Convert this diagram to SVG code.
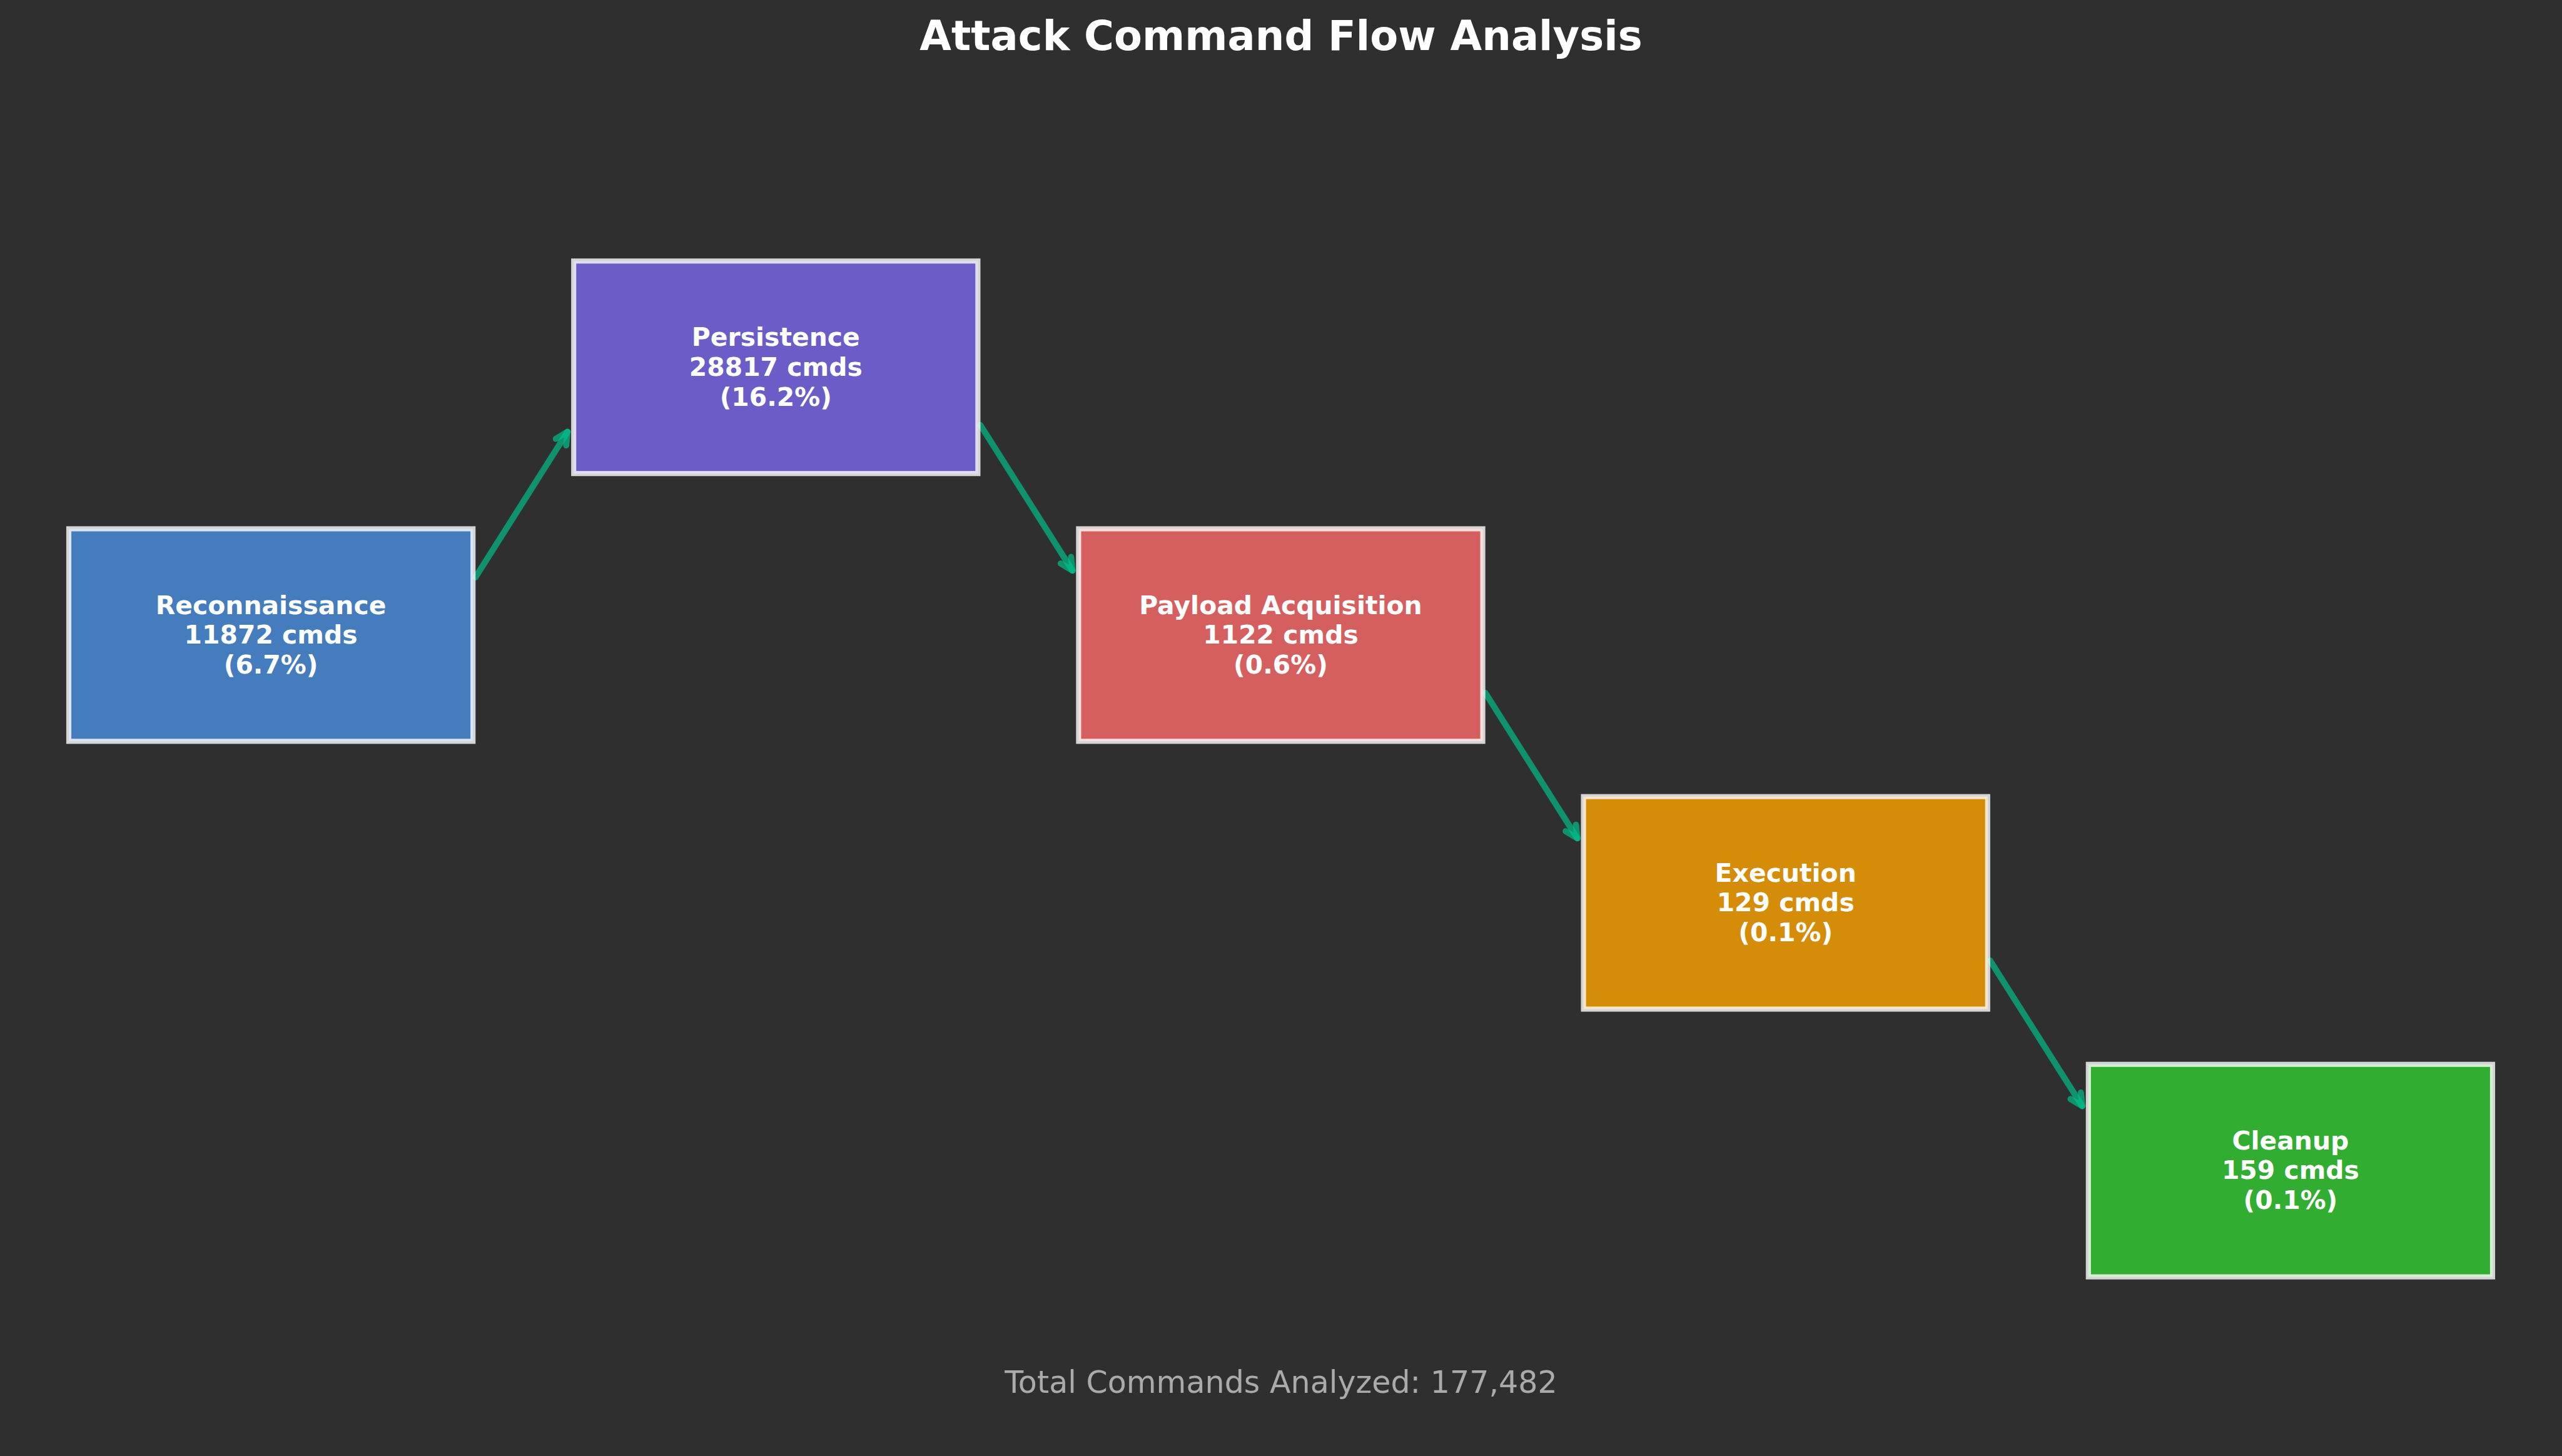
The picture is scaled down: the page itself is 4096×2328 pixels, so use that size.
<svg xmlns="http://www.w3.org/2000/svg" width="4096" height="2328" viewBox="0 0 4096 2328">
<style>
.bg{fill:#2F2F2F}
.box{fill-opacity:0.8;stroke:#FFFFFF;stroke-opacity:0.8;stroke-width:8.15}
.lbl{font-family:"DejaVu Sans","Liberation Sans",sans-serif;font-weight:bold;font-size:40.9px;fill:#FFFFFF;text-anchor:middle}
.title{font-family:"DejaVu Sans","Liberation Sans",sans-serif;font-weight:bold;font-size:65.5px;fill:#FFFFFF;text-anchor:middle}
.foot{font-family:"DejaVu Sans","Liberation Sans",sans-serif;font-size:49.1px;fill:#AAAAAA;text-anchor:middle}
.arrow{fill:none;stroke:#00C38D;stroke-opacity:0.68;stroke-width:9.8;stroke-linecap:round;stroke-linejoin:round}
</style>
<defs>
<marker id="ah" markerUnits="userSpaceOnUse" orient="auto" overflow="visible" refX="0" refY="0" markerWidth="1" markerHeight="1">
<path class="arrow" d="M-19.6,-9.8 L0,0 L-19.6,9.8"/>
</marker>
</defs>
<rect class="bg" x="0" y="0" width="4096" height="2328"/>
<text class="title" x="2048" y="80.2">Attack Command Flow Analysis</text>
<g id="connectors">
<path class="arrow" marker-end="url(#ah)" d="M760.1,923.1 L907.4,690.3"/>
<path class="arrow" marker-end="url(#ah)" d="M1567.3,679.5 L1714.6,912.3"/>
<path class="arrow" marker-end="url(#ah)" d="M2374.5,1107.7 L2521.8,1340.4"/>
<path class="arrow" marker-end="url(#ah)" d="M3181.7,1535.8 L3329.0,1768.6"/>
</g>
<g id="node-reconnaissance">
<rect class="box" fill="#4A90E2" x="110.0" y="845.5" width="646.2" height="339.8"/>
<text class="lbl" x="433.1" y="981.5">Reconnaissance</text>
<text class="lbl" x="433.1" y="1029.1">11872 cmds</text>
<text class="lbl" x="433.1" y="1076.8">(6.7%)</text>
</g>
<g id="node-persistence">
<rect class="box" fill="#7B68EE" x="917.2" y="417.35" width="646.2" height="339.8"/>
<text class="lbl" x="1240.3" y="553.3">Persistence</text>
<text class="lbl" x="1240.3" y="600.9">28817 cmds</text>
<text class="lbl" x="1240.3" y="648.6">(16.2%)</text>
</g>
<g id="node-payload">
<rect class="box" fill="#FF6B6B" x="1724.4" y="845.5" width="646.2" height="339.8"/>
<text class="lbl" x="2047.5" y="981.5">Payload Acquisition</text>
<text class="lbl" x="2047.5" y="1029.1">1122 cmds</text>
<text class="lbl" x="2047.5" y="1076.8">(0.6%)</text>
</g>
<g id="node-execution">
<rect class="box" fill="#FFA500" x="2531.6" y="1273.7" width="646.2" height="339.8"/>
<text class="lbl" x="2854.7" y="1409.6">Execution</text>
<text class="lbl" x="2854.7" y="1457.2">129 cmds</text>
<text class="lbl" x="2854.7" y="1504.9">(0.1%)</text>
</g>
<g id="node-cleanup">
<rect class="box" fill="#32CD32" x="3338.8" y="1701.8" width="646.2" height="339.8"/>
<text class="lbl" x="3661.9" y="1837.8">Cleanup</text>
<text class="lbl" x="3661.9" y="1885.4">159 cmds</text>
<text class="lbl" x="3661.9" y="1933.1">(0.1%)</text>
</g>
<text class="foot" x="2048" y="2227.2">Total Commands Analyzed: 177,482</text>
</svg>
